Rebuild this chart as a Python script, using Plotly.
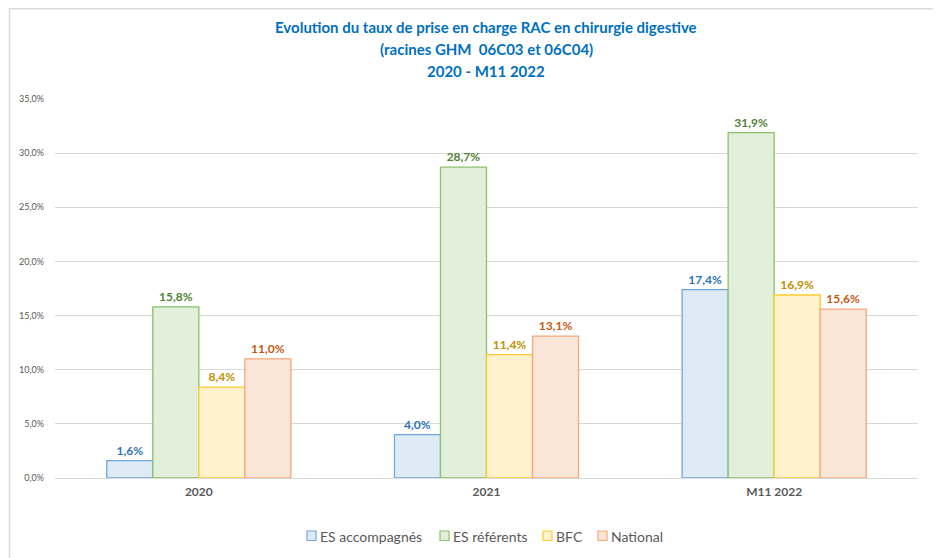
import plotly.graph_objs as go

# Données
categories = ["2020", "2021", "M11 2022"]
es_accompagnes = [1.6, 4.0, 17.4]
es_referents = [15.8, 28.7, 31.9]
bfc = [8.4, 11.4, 16.9]
national = [11.0, 13.1, 15.6]

series_names = ["ES accompagnés", "ES référents", "BFC", "National"]
y_ticks = [0, 5, 10, 15, 20, 25, 30, 35]
y_tick_labels = ["0,0%", "5,0%", "10,0%", "15,0%", "20,0%", "25,0%", "30,0%", "35,0%"]

title_lines = [
    "Evolution du taux de prise en charge RAC en chirurgie digestive",
    "(racines GHM  06C03 et 06C04)",
    "2020 - M11 2022",
]

# styles (remplissage, contour, texte)
styles = [
    ("#DEEBF7", "#6FA8DC", "#2E75B6"),
    ("#E2EFDA", "#8CC16B", "#548235"),
    ("#FFF2CC", "#FFCB2F", "#BF9000"),
    ("#FBE5D6", "#F4A77A", "#C55A11"),
]

# position (px) du carré de légende de chaque série
legend_x = [307, 440, 543, 598]

FONT = "Lato"

fig = go.Figure()
for name, values, (fill, line, txt) in zip(series_names, [es_accompagnes, es_referents, bfc, national], styles):
    fig.add_trace(go.Bar(
        x=categories,
        y=values,
        name=name,
        marker=dict(color=fill, line=dict(color=line, width=1.3)),
        text=[f"{v:.1f}%".replace(".", ",") for v in values],
        textposition="outside",
        cliponaxis=False,
        textfont=dict(family=FONT, size=12, color=txt, weight="bold"),
        showlegend=False,
    ))

# la page a une marge de 8 px : la figure commence en (8, 8)
OFF = 8
W, H = 941 - OFF, 558 - OFF
L, R, T, B = 55 - OFF, 23, 99 - OFF, 80
pw, ph = W - L - R, H - T - B

# conversion pixel (page) -> coordonnées papier
def px_x(p):
    return (p - OFF - L) / pw

def px_y(p):
    return (H - B - (p - OFF)) / ph

annotations = []
for i, line_txt in enumerate(title_lines):
    annotations.append(dict(
        text=f"<b>{line_txt}</b>",
        x=px_x(486), y=px_y(27 + 22 * i),
        xref="paper", yref="paper", xanchor="center", yanchor="middle",
        showarrow=False,
        font=dict(family=FONT, size=15, color="#0070C0"),
    ))

shapes = [
    dict(type="line", xref="paper", yref="paper",
         x0=px_x(9), x1=px_x(945), y0=px_y(8.7), y1=px_y(8.7),
         line=dict(color="#D9D9D9", width=1.5)),
    dict(type="line", xref="paper", yref="paper",
         x0=px_x(9.5), x1=px_x(9.5), y0=px_y(8), y1=px_y(562),
         line=dict(color="#D9D9D9", width=1.5)),
]

# légende manuelle (carrés + libellés) pour garder l'espacement d'Excel
for name, lx, (fill, line, txt) in zip(series_names, legend_x, styles):
    shapes.append(dict(
        type="rect", xref="paper", yref="paper",
        x0=px_x(lx), x1=px_x(lx + 9), y0=px_y(531), y1=px_y(540.5),
        fillcolor=fill, line=dict(color=line, width=1.2),
    ))
    annotations.append(dict(
        text=name,
        x=px_x(lx + 11), y=px_y(536),
        xref="paper", yref="paper", xanchor="left", yanchor="middle",
        showarrow=False,
        font=dict(family=FONT, size=14, color="#595959"),
    ))

fig.update_layout(
    width=W, height=H,
    margin=dict(l=L, r=R, t=T, b=B, autoexpand=False),
    paper_bgcolor="white",
    plot_bgcolor="white",
    barmode="group",
    bargap=0.36,
    bargroupgap=0,
    showlegend=False,
    annotations=annotations,
    shapes=shapes,
)

fig.update_xaxes(
    type="category",
    tickvals=categories,
    ticktext=[f"<b>{c}</b>" for c in categories],
    tickfont=dict(family=FONT, size=12, color="#595959"),
    showline=True, linecolor="#D9D9D9", linewidth=1,
    ticks="", ticklabelstandoff=3, automargin=False,
)

fig.update_yaxes(
    range=[0, 35],
    tickvals=y_ticks,
    ticktext=y_tick_labels,
    tickfont=dict(family=FONT, size=9, color="#595959"),
    showgrid=True, gridcolor="#D9D9D9", gridwidth=1,
    zeroline=False,
    ticks="", ticklabelstandoff=10, automargin=False,
)

fig.write_html("out.html")
